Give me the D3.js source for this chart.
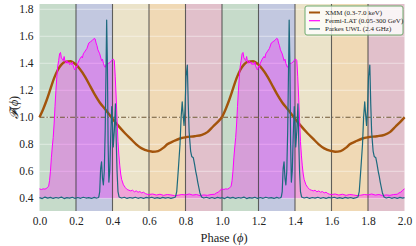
<!DOCTYPE html>
<html>
<head>
<meta charset="utf-8">
<title>Pulse profiles</title>
<style type="text/css">
body{ margin: 0; background: #fff; }
svg text{ font-family: "Liberation Serif", "DejaVu Serif", serif; fill: #222; }
</style>
<script type="text/javascript" src="https://cdn.jsdelivr.net/npm/d3@7"></script>
</head>
<body>
<script>
// one rotation of each profile, drawn twice (phase 0-1 and 1-2)
var periods = [0, 1];
var bandEdges = [0, 0.2, 0.4, 0.6, 0.8];
var bandColors = ["#c6dbca", "#c2c8e0", "#ebe3c9", "#f0d9b5", "#e1c0cb"];
var xTicks = [0, 0.2, 0.4, 0.6, 0.8, 1.0, 1.2, 1.4, 1.6, 1.8, 2.0];
var yTicks = [0.4, 0.6, 0.8, 1.0, 1.2, 1.4, 1.6, 1.8];

var xmmPhase = [0, 0.02, 0.04, 0.06, 0.08, 0.10, 0.12, 0.14, 0.17, 0.20, 0.22, 0.25, 0.28, 0.30, 0.33, 0.36,
  0.40, 0.43, 0.47, 0.50, 0.53, 0.56, 0.60, 0.62, 0.65, 0.68, 0.70, 0.73, 0.77, 0.80, 0.85, 0.89, 0.92, 0.95, 0.98, 1.0];
var xmmFlux = [1.0, 1.06, 1.13, 1.21, 1.29, 1.35, 1.39, 1.41, 1.415, 1.39, 1.36, 1.30, 1.225, 1.175, 1.11, 1.06,
  0.99, 0.94, 0.88, 0.84, 0.80, 0.77, 0.75, 0.745, 0.75, 0.775, 0.80, 0.82, 0.843, 0.852, 0.86, 0.87, 0.89, 0.93, 0.97, 1.0];

var fermiPhase = [0, 0.01, 0.02, 0.03, 0.04, 0.05, 0.055, 0.06, 0.065, 0.07, 0.075, 0.08, 0.085, 0.09, 0.095,
  0.10, 0.105, 0.11, 0.115, 0.12, 0.125, 0.13, 0.135, 0.14, 0.145, 0.15, 0.155, 0.16, 0.165, 0.17, 0.175, 0.18,
  0.185, 0.19, 0.195, 0.20, 0.205, 0.21, 0.22, 0.23, 0.235, 0.24, 0.25, 0.26, 0.27, 0.28, 0.29, 0.30, 0.305,
  0.31, 0.315, 0.32, 0.33, 0.34, 0.345, 0.35, 0.355, 0.36, 0.365, 0.37, 0.38, 0.39, 0.395, 0.40, 0.405, 0.41,
  0.415, 0.42, 0.425, 0.43, 0.435, 0.44, 0.445, 0.45, 0.46, 0.47, 0.48, 0.49, 0.50, 0.51, 0.52, 0.53, 0.54,
  0.55, 0.56, 0.57, 0.58, 0.59, 0.60, 0.62, 0.64, 0.66, 0.68, 0.70, 0.72, 0.74, 0.76, 0.78, 0.80, 0.82, 0.84,
  0.86, 0.88, 0.90, 0.92, 0.94, 0.96, 0.97, 0.98, 0.99, 1.0];
var fermiFlux = [0.47, 0.465, 0.47, 0.468, 0.475, 0.49, 0.53, 0.60, 0.70, 0.78, 0.85, 0.95, 1.08, 1.20, 1.30,
  1.38, 1.42, 1.47, 1.48, 1.44, 1.43, 1.42, 1.45, 1.41, 1.40, 1.42, 1.40, 1.41, 1.39, 1.40, 1.39, 1.41,
  1.38, 1.36, 1.35, 1.38, 1.37, 1.40, 1.43, 1.45, 1.44, 1.47, 1.49, 1.51, 1.55, 1.56, 1.57, 1.585, 1.58,
  1.55, 1.53, 1.50, 1.47, 1.42, 1.43, 1.40, 1.38, 1.37, 1.39, 1.40, 1.40, 1.41, 1.42, 1.43, 1.43, 1.42,
  1.30, 1.15, 0.98, 0.82, 0.72, 0.64, 0.58, 0.54, 0.50, 0.48, 0.465, 0.46, 0.455, 0.46, 0.448, 0.455, 0.445,
  0.45, 0.44, 0.445, 0.435, 0.43, 0.428, 0.432, 0.424, 0.43, 0.422, 0.428, 0.425, 0.42, 0.423, 0.428, 0.425, 0.432, 0.424,
  0.428, 0.42, 0.425, 0.422, 0.428, 0.43, 0.44, 0.445, 0.46, 0.47];

var parkesPhase = [0, 0.015, 0.03, 0.045, 0.06, 0.075, 0.09, 0.105, 0.12, 0.135, 0.15, 0.165, 0.18, 0.195,
  0.21, 0.225, 0.24, 0.255, 0.27, 0.285, 0.30, 0.31, 0.32, 0.325, 0.33, 0.335,
  0.34, 0.345, 0.35, 0.355, 0.36, 0.364, 0.368, 0.372, 0.376, 0.38, 0.385, 0.39, 0.396, 0.40, 0.404, 0.41,
  0.416, 0.42, 0.425, 0.43, 0.436, 0.45, 0.465, 0.48, 0.495, 0.51, 0.525, 0.54, 0.555, 0.57, 0.585, 0.60,
  0.615, 0.63, 0.645, 0.66, 0.675, 0.69, 0.705, 0.72, 0.735, 0.745, 0.752, 0.76, 0.77,
  0.776, 0.782, 0.787, 0.792, 0.797, 0.803, 0.81, 0.815, 0.82, 0.828, 0.834, 0.843, 0.85, 0.856, 0.862,
  0.867, 0.873, 0.879, 0.888, 0.90, 0.915, 0.93, 0.945, 0.96, 0.975, 0.99, 1.0];
var parkesFlux = [0.405, 0.398, 0.409, 0.401, 0.407, 0.399, 0.406, 0.402, 0.409, 0.398, 0.405, 0.401, 0.408, 0.399,
  0.406, 0.400, 0.408, 0.402, 0.405, 0.399, 0.407, 0.402, 0.404, 0.41, 0.45, 0.62,
  0.67, 0.55, 0.50, 0.60, 0.90, 1.30, 1.72, 1.40, 0.80, 0.52, 0.60, 0.85, 1.08, 0.95, 0.78, 0.90,
  1.10, 0.85, 0.60, 0.45, 0.41, 0.402, 0.408, 0.399, 0.406, 0.401, 0.408, 0.400, 0.406, 0.399, 0.407, 0.402,
  0.408, 0.400, 0.405, 0.399, 0.407, 0.401, 0.406, 0.399, 0.405, 0.41, 0.45, 0.60, 0.80,
  1.00, 1.115, 1.02, 0.94, 1.05, 1.30, 1.387, 1.10, 0.89, 0.75, 0.71, 0.70, 0.65, 0.60, 0.56,
  0.52, 0.48, 0.44, 0.41, 0.402, 0.408, 0.400, 0.406, 0.399, 0.407, 0.401, 0.405];

var legendLabels = ["XMM (0.3-7.0 keV)", "Fermi-LAT (0.05-300 GeV)", "Parkes UWL (2.4 GHz)"];
var seriesColors = ["#a3540c", "#ff00ff", "#1d6a7e"];
var seriesWidths = [2.4, 1, 1.2];

const width = 416, height = 246,
  margin = {top: 4, right: 11.5, bottom: 35, left: 39.5},
  contentWidth = width - margin.left - margin.right,
  contentHeight = height - margin.top - margin.bottom;
const serif = '"Liberation Serif", "DejaVu Serif", serif';

const svg = d3.select("body").append("svg").attr("width", width).attr("height", height);
const content = svg.append("g").attr("transform", `translate(${margin.left}, ${margin.top})`);

const xScale = d3.scaleLinear().domain([0, 2]).range([0, contentWidth]);
const yScale = d3.scaleLinear().domain([0.306, 1.839]).range([contentHeight, 0]);

function zipped(px, py, shift) {
  return px.map((p, i) => ({phase: p + shift, flux: py[i]}));
}

// background bands
periods.forEach(function(shift) {
  bandEdges.forEach(function(b, i) {
    content.append("rect")
      .attr("x", xScale(b + shift)).attr("y", 0)
      .attr("width", xScale(b + shift + 0.2) - xScale(b + shift))
      .attr("height", contentHeight)
      .attr("fill", bandColors[i]);
  });
});

// white grid
content.selectAll(".hgrid").data(yTicks).enter().append("line")
  .attr("x1", 0).attr("x2", contentWidth)
  .attr("y1", d => yScale(d)).attr("y2", d => yScale(d))
  .attr("stroke", "#fff").attr("stroke-opacity", 0.45).attr("stroke-width", 1);

// Fermi fill
const area = d3.area().x(d => xScale(d.phase)).y0(yScale(0.4)).y1(d => yScale(d.flux));
periods.forEach(function(shift) {
  content.append("path").datum(zipped(fermiPhase, fermiFlux, shift))
    .attr("d", area).attr("fill", "#ff00ff").attr("fill-opacity", 0.28);
});

// band separators
content.selectAll(".vline").data(xTicks.slice(1, -1)).enter().append("line")
  .attr("x1", d => xScale(d)).attr("x2", d => xScale(d))
  .attr("y1", 0).attr("y2", contentHeight)
  .attr("stroke", "#3c3c3c").attr("stroke-opacity", 0.8).attr("stroke-width", 1.1);

// reference at 1.0
content.append("line")
  .attr("x1", 0).attr("x2", contentWidth)
  .attr("y1", yScale(1.0)).attr("y2", yScale(1.0))
  .attr("stroke", "#6e5530").attr("stroke-width", 1.1)
  .attr("stroke-dasharray", "5,2,1.2,2");

const lineGen = d3.line().x(d => xScale(d.phase)).y(d => yScale(d.flux));
const smoothGen = d3.line().x(d => xScale(d.phase)).y(d => yScale(d.flux)).curve(d3.curveMonotoneX);

const series = [
  {px: xmmPhase, py: xmmFlux, gen: smoothGen},
  {px: fermiPhase, py: fermiFlux, gen: lineGen},
  {px: parkesPhase, py: parkesFlux, gen: lineGen}
];
series.forEach(function(s, i) {
  periods.forEach(function(shift) {
    content.append("path").datum(zipped(s.px, s.py, shift))
      .attr("d", s.gen).attr("fill", "none")
      .attr("stroke", seriesColors[i]).attr("stroke-width", seriesWidths[i])
      .attr("stroke-linejoin", "round");
  });
});

// axes (labels only, no spines)
const xAxisG = svg.append("g").attr("transform", `translate(${margin.left}, ${margin.top + contentHeight})`)
  .call(d3.axisBottom(xScale).tickValues(xTicks).tickFormat(d3.format(".1f")).tickSize(0).tickPadding(6));
const yAxisG = svg.append("g").attr("transform", `translate(${margin.left}, ${margin.top})`)
  .call(d3.axisLeft(yScale).tickValues(yTicks).tickFormat(d3.format(".1f")).tickSize(0).tickPadding(6));
[xAxisG, yAxisG].forEach(function(g) {
  g.attr("font-family", null);
  g.select(".domain").remove();
  g.selectAll("text").style("font-family", serif).attr("font-size", 11.5).attr("fill", "#222");
});

svg.append("text")
  .attr("text-anchor", "middle")
  .attr("x", margin.left + contentWidth / 2 + 2).attr("y", 242)
  .style("font-family", serif)
  .attr("font-size", 12.5)
  .html('Phase (<tspan font-style="italic">ϕ</tspan>)');

svg.append("text")
  .attr("text-anchor", "middle")
  .attr("transform", `translate(18, ${margin.top + contentHeight / 2}) rotate(-90)`)
  .style("font-family", serif)
  .attr("font-size", 12)
  .html('<tspan font-style="italic">𝓕</tspan>(<tspan font-style="italic">ϕ</tspan>)');

// legend
const legend = svg.append("g").attr("transform", "translate(305, 6)");
legend.append("rect").attr("width", 98).attr("height", 29).attr("rx", 2)
  .attr("fill", "#fff").attr("fill-opacity", 0.8)
  .attr("stroke", "#6faa6f").attr("stroke-width", 1);
legendLabels.forEach(function(label, i) {
  const y = 6.5 + i * 8.2;
  legend.append("line").attr("x1", 4).attr("x2", 15).attr("y1", y).attr("y2", y)
    .attr("stroke", seriesColors[i]).attr("stroke-width", i === 0 ? 2 : 1.2);
  legend.append("text").attr("x", 20).attr("y", y + 2.4)
    .style("font-family", serif)
    .attr("font-size", 7).text(label);
});
</script>
</body>
</html>
